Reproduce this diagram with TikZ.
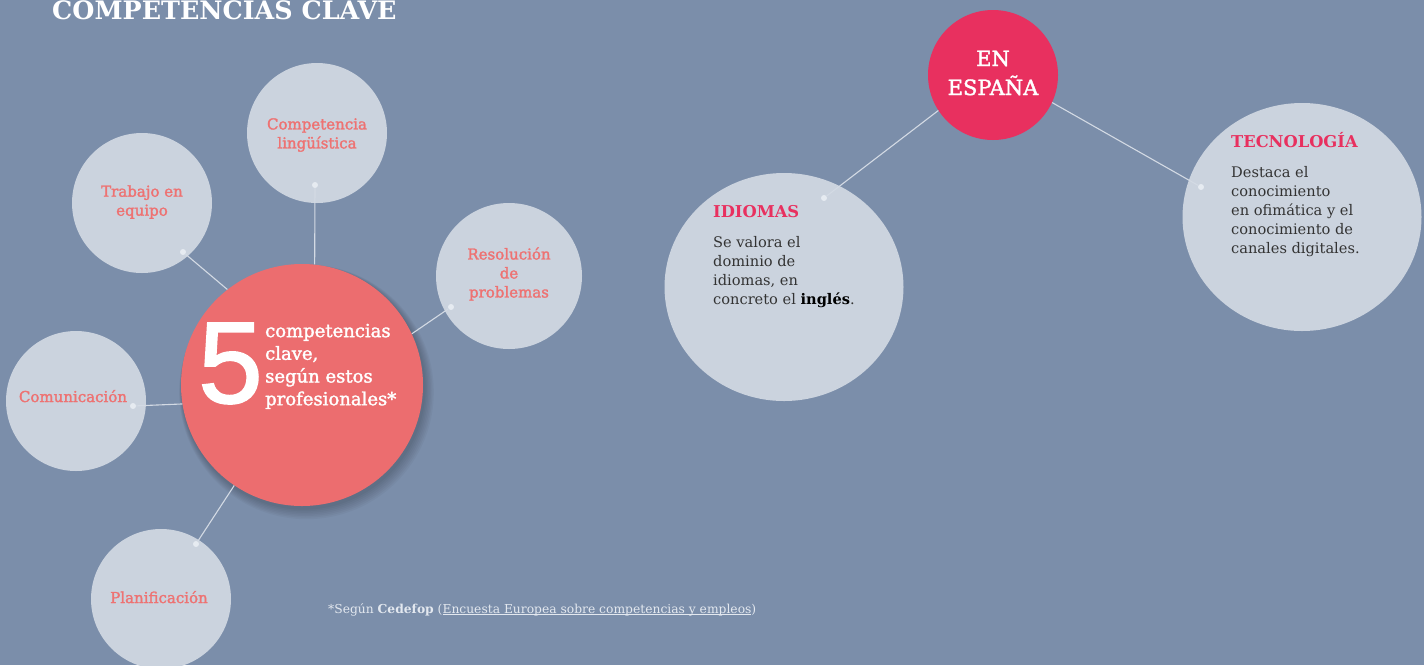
\documentclass[tikz,border=0pt]{standalone}
\usepackage{fontspec}
\setmainfont{DejaVu Serif}
\newfontfamily\semi[FakeBold=1.8]{DejaVu Serif}
\newfontfamily\numfont[FakeBold=1.5]{Liberation Sans}
\usetikzlibrary{shapes.geometric}
\newcommand{\myul}[1]{\setbox0\hbox{#1}\rlap{\rule[-1.6pt]{\wd0}{0.7pt}}\box0}
\definecolor{bgc}{HTML}{7B8EAA}
\definecolor{satc}{HTML}{CBD3DE}
\definecolor{corec}{HTML}{EC6D6F}
\definecolor{labc}{HTML}{EE7272}
\definecolor{pinkc}{HTML}{E8305F}
\definecolor{linec}{HTML}{D3DAE4}
\definecolor{dotc}{HTML}{E6EBF1}
\definecolor{darkc}{HTML}{333333}
\definecolor{notec}{HTML}{E3E8EF}
\begin{document}
\begin{tikzpicture}[x=1pt,y=-1pt,
  sat/.style={circle,fill=satc,inner sep=0pt,minimum size=140pt},
  big/.style={ellipse,fill=satc,inner sep=0pt,minimum width=239pt,minimum height=228pt},
  lab/.style={text=labc,align=center,inner sep=0pt,font=\semi\fontsize{15}{19}\selectfont},
  conn/.style={draw=linec,line width=1.1pt},
  pin/.style={circle,fill=dotc,inner sep=0pt,minimum size=6pt},
  head/.style={text=pinkc,anchor=base west,inner sep=0pt,font=\fontsize{16.3}{20}\bfseries\selectfont},
  desc/.style={text=darkc,align=left,anchor=west,inner sep=0pt,font=\fontsize{14.6}{19}\selectfont},
]
\fill[bgc] (0,0) rectangle (1424,665);
\useasboundingbox (0,0) rectangle (1424,665);

\node[anchor=base west,inner sep=0pt,text=white,font=\fontsize{25.4}{30}\bfseries\selectfont] (title) at (52,19) {COMPETENCIAS CLAVE};

% shadow of the central circle
\foreach \i in {1,...,7}
  \fill[black,opacity=0.03] (303+0.5*\i,387+0.7*\i) circle[radius={121pt+0.9pt*\i}];

% central circle
\node[circle,fill=corec,inner sep=0pt,minimum size=242pt] (core) at (302,385) {};

% satellites
\node[sat] (ling) at (317,133) {};
\node[sat] (trab) at (142,203) {};
\node[sat,minimum size=146pt] (reso) at (509,276) {};
\node[sat] (comu) at (76,401) {};
\node[sat] (plan) at (161,599) {};

% right side
\node[circle,fill=pinkc,inner sep=0pt,minimum size=130pt] (esp) at (993,75) {};
\node[big] (idi) at (784,287) {};
\node[big] (tec) at (1302,217) {};

% pins
\node[pin] (pling) at (315,185) {};
\node[pin] (ptrab) at (183,252) {};
\node[pin] (preso) at (451,307) {};
\node[pin] (pcomu) at (133,406) {};
\node[pin] (pplan) at (196,544) {};
\node[pin] (pidi) at (824,198) {};
\node[pin] (ptec) at (1201,187) {};

% connectors
\draw[conn] (pling) -- (core.84);
\draw[conn] (ptrab) -- (core.128);
\draw[conn] (preso) -- (core.25);
\draw[conn] (pcomu) -- (core.189);
\draw[conn] (pplan) -- (core.236);
\draw[conn] (esp.213) -- (pidi);
\draw[conn] (esp.335) -- (ptec);

% satellite labels
\node[lab] (linglab) at (317,135) {Competencia\\lingüística};
\node[lab] (trablab) at (142,202) {Trabajo en\\equipo};
\node[lab] (resolab) at (509,274) {Resolución\\de\\problemas};
\node[lab,anchor=base] (comulab) at (73,402) {Comunicación};
\node[lab,anchor=base] (planlab) at (159,603) {Planificación};

% central text
\node[text=white,inner sep=0pt,font=\numfont\fontsize{116}{116}\selectfont] (five) at (230.5,363.5) {5};
\node[text=white,align=left,anchor=west,inner sep=0pt,font=\semi\fontsize{18}{22.7}\selectfont] (coretext) at (265,366.4) {competencias\\clave,\\según estos\\profesionales*};

% EN ESPANA
\node[text=white,align=center,inner sep=0pt,font=\semi\fontsize{21}{29}\selectfont] (esplab) at (993,73) {EN\\ESPAÑA};

% IDIOMAS
\node[head] (idihead) at (713,217) {IDIOMAS};
\node[desc] (ididesc) at (713,271.7) {Se valora el\\dominio de\\idiomas, en\\concreto el \textbf{\color{black}inglés}.};

% TECNOLOGIA
\node[head] (techead) at (1231,147) {TECNOLOGÍA};
\node[desc] (tecdesc) at (1231,211.9) {Destaca el\\conocimiento\\en ofimática y el\\conocimiento de\\canales digitales.};

% footnote
\node[anchor=base west,inner sep=0pt,text=notec,font=\fontsize{12.3}{15}\selectfont] (note) at (328,613) {*Según \textbf{Cedefop} (\myul{Encuesta Europea sobre competencias y empleos})};
\end{tikzpicture}
\end{document}
